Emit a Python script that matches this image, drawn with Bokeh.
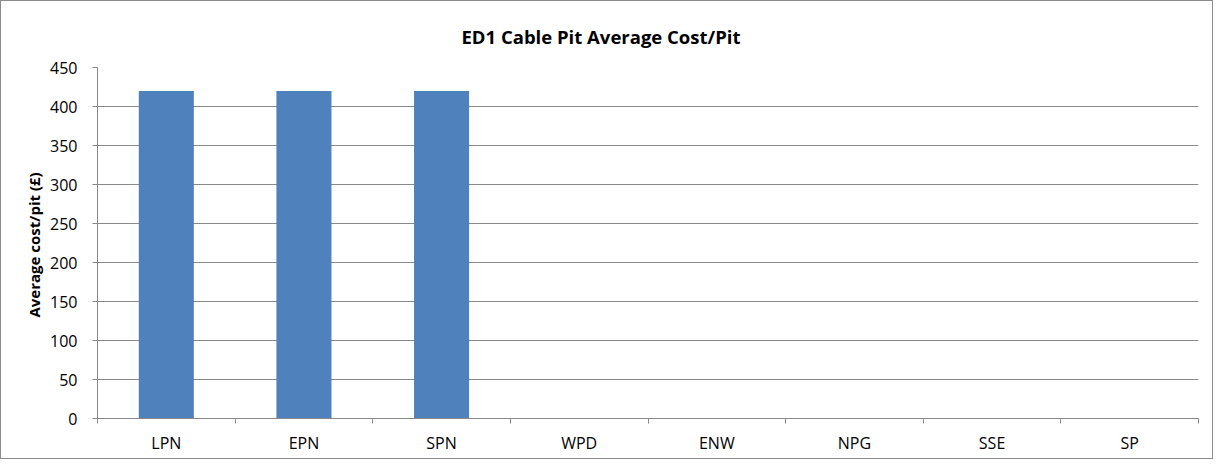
from bokeh.plotting import figure
from bokeh.models import Range1d, FixedTicker, ColumnDataSource
from bokeh.embed import file_html
from bokeh.resources import INLINE

categories = ["LPN", "EPN", "SPN", "WPD", "ENW", "NPG", "SSE", "SP"]
avg_cost = [420, 420, 420, 0, 0, 0, 0, 0]
y_ticks = [0, 50, 100, 150, 200, 250, 300, 350, 400, 450]
title_text = "ED1 Cable Pit Average Cost/Pit"

FONT = "Open Sans"
GRAY = "#888888"

centers = [i + 0.5 for i in range(len(categories))]
src = ColumnDataSource(dict(x=centers, top=avg_cost, cat=categories))

p = figure(width=1213, height=459, output_backend="svg", toolbar_location=None,
           x_range=Range1d(0, len(categories)), y_range=Range1d(0, 450),
           min_border_left=96, min_border_right=16, min_border_top=66, min_border_bottom=42)

p.vbar(x="x", top="top", width=0.4, source=src, color="#4F81BD", line_color=None)

p.title.text = title_text
p.title.text_font = FONT
p.title.text_font_style = "bold"
p.title.text_font_size = "18.5px"
p.title.align = "left"
p.title.vertical_align = "bottom"
p.title.offset = 364
p.title.standoff = 38
p.title.text_color = "#000000"

p.outline_line_color = None
p.xgrid.grid_line_color = None
p.ygrid.grid_line_color = GRAY
p.ygrid.grid_line_width = 1
p.ygrid.ticker = FixedTicker(ticks=y_ticks)

xa = p.xaxis[0]
xa.ticker = FixedTicker(ticks=centers, minor_ticks=list(range(len(categories) + 1)))
xa.major_label_overrides = {c: n for c, n in zip(centers, categories)}
xa.major_tick_line_color = None
xa.minor_tick_line_color = GRAY
xa.minor_tick_in = 0
xa.minor_tick_out = 5
xa.axis_line_color = GRAY
xa.major_label_text_font = FONT
xa.major_label_text_font_size = "16px"
xa.major_label_text_color = "#000000"
xa.major_label_standoff = 7

ya = p.yaxis[0]
ya.ticker = FixedTicker(ticks=y_ticks)
ya.axis_line_color = GRAY
ya.major_tick_line_color = GRAY
ya.major_tick_in = 0
ya.major_tick_out = 5
ya.minor_tick_line_color = None
ya.major_label_text_font = FONT
ya.major_label_text_font_size = "16px"
ya.major_label_text_color = "#000000"
ya.major_label_standoff = 15
ya.axis_label = "Average cost/pit  (£)"
ya.axis_label_text_font = FONT
ya.axis_label_text_font_style = "bold"
ya.axis_label_text_font_size = "15px"
ya.axis_label_text_color = "#000000"
ya.axis_label_standoff = 3

p.styles = {"border": "1px solid #8c8c8c", "box-sizing": "border-box"}

open("out.html", "w").write(file_html(p, INLINE))
